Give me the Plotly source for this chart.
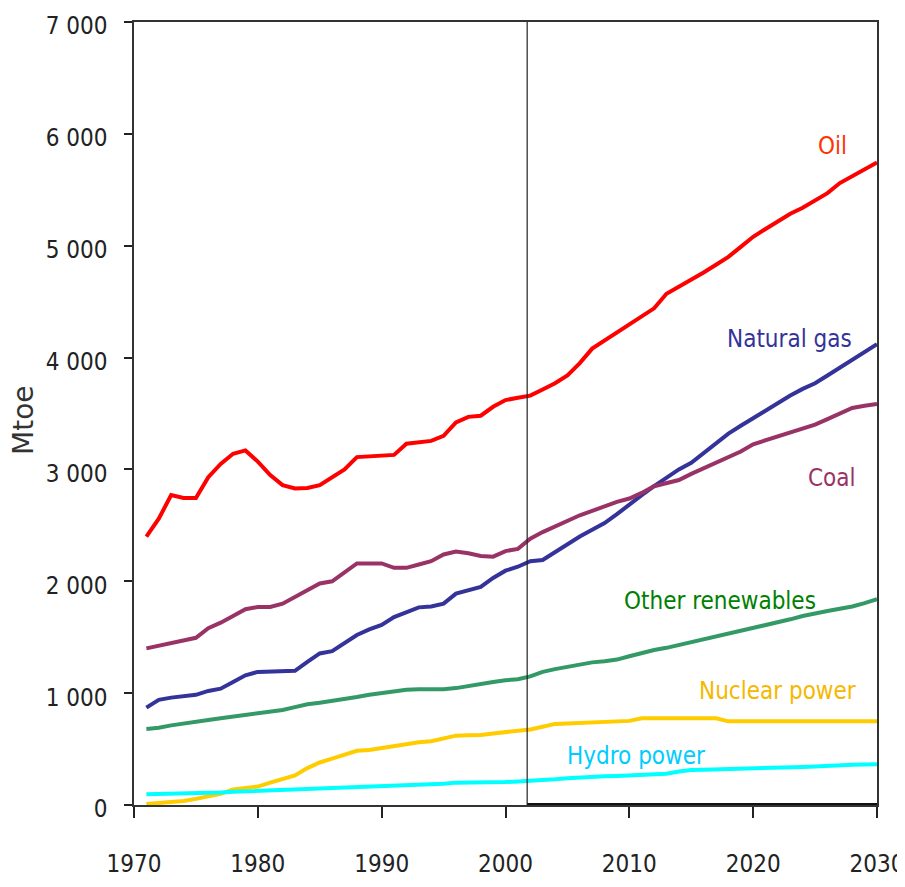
import plotly.graph_objects as go

years = list(range(1971, 2031))

oil = [2400, 2560, 2770, 2745, 2745, 2930, 3050, 3140, 3170, 3070, 2950, 2860, 2830, 2835, 2860,
       2925, 3000, 3110, 3115, 3120, 3130, 3230, 3240, 3255, 3300, 3420, 3470, 3480, 3560, 3620,
       3640, 3660,
       3715, 3770, 3840, 3950, 4080, 4150, 4220, 4290, 4360, 4440, 4570, 4630, 4690, 4760, 4830,
       4900, 4990, 5080, 5150, 5220, 5285, 5340, 5400, 5470, 5560, 5620, 5680, 5745]

natural_gas = [870, 940, 960, 975, 985, 1020, 1040, 1100, 1160, 1190, 1195, 1195, 1200, 1280, 1355,
               1375, 1450, 1520, 1570, 1610, 1680, 1720, 1767, 1775, 1800, 1890, 1920, 1950, 2030, 2095,
               2130, 2180,
               2190, 2260, 2340, 2400, 2460, 2520, 2600, 2690, 2770, 2850, 2930, 3000, 3060, 3150, 3240,
               3320, 3390, 3460, 3530, 3600, 3660, 3720, 3770, 3840, 3910, 3980, 4050, 4120]

coal = [1400, 1425, 1450, 1475, 1495, 1580, 1630, 1690, 1750, 1770, 1770, 1800, 1860, 1920, 1980,
        2000, 2080, 2160, 2160, 2160, 2120, 2120, 2150, 2180, 2240, 2265, 2250, 2226, 2220, 2270,
        2290, 2380,
        2440, 2490, 2540, 2590, 2630, 2670, 2710, 2740, 2790, 2850, 2880, 2905, 2960, 3010, 3060,
        3110, 3160, 3225, 3260, 3290, 3330, 3360, 3400, 3450, 3500, 3550, 3570, 3585]

other_renewables = [680, 690, 712, 730, 745, 760, 775, 790, 805, 815, 830, 850, 875, 900, 915,
                    930, 950, 965, 985, 1000, 1015, 1030, 1035, 1035, 1035, 1045, 1065, 1085, 1100, 1115,
                    1124, 1150,
                    1190, 1215, 1235, 1255, 1275, 1285, 1300, 1330, 1360, 1385, 1405, 1430, 1455, 1480, 1505,
                    1530, 1555, 1580, 1605, 1630, 1660, 1690, 1715, 1735, 1755, 1775, 1805, 1840]

nuclear = [10, 20, 25, 35, 55, 75, 100, 140, 150, 165, 200, 235, 265, 330, 380,
           415, 450, 485, 492, 510, 530, 545, 560, 570, 595, 620, 623, 625, 640, 650,
           660, 675,
           700, 725, 728, 732, 738, 745, 748, 752, 775, 775, 775, 775, 775, 775, 775,
           748, 748, 748, 748, 748, 748, 748, 748, 748, 748, 748, 748, 748]

hydro = [95, 97, 100, 103, 106, 108, 112, 118, 122, 128, 132, 136, 140, 145, 149,
         152, 155, 160, 163, 165, 170, 175, 180, 183, 190, 200, 200, 200, 202, 205,
         210, 215,
         222, 230, 240, 248, 253, 256, 259, 262, 266, 270, 280, 300, 313, 315, 317,
         319, 321, 323, 326, 330, 335, 340, 345, 352, 358, 360, 362, 365]

x_ticks = [1970, 1980, 1990, 2000, 2010, 2020, 2030]
y_tickvals = [0, 1000, 2000, 3000, 4000, 5000, 6000, 7000]
y_ticktext = ["0", "1 000", "2 000", "3 000", "4 000", "5 000", "6 000", "7 000"]

base_year = 2001.75

series = [
    ("Oil", oil, "#FF0000", "#FF3300", 2026.4, 5890),
    ("Natural gas", natural_gas, "#333399", "#333399", 2022.9, 4170),
    ("Coal", coal, "#993366", "#993366", 2026.4, 2920),
    ("Other renewables", other_renewables, "#339966", "#008000", 2017.3, 1820),
    ("Nuclear power", nuclear, "#FFCC00", "#F5B800", 2022.0, 1020),
    ("Hydro power", hydro, "#00FFFF", "#00CCFF", 2010.5, 440),
]

FONT = "DejaVu Sans Condensed, Liberation Sans Narrow, Arial Narrow, Liberation Sans, Arial, sans-serif"

fig = go.Figure()
for name, vals, lc, tc, lx, ly in series:
    fig.add_trace(go.Scatter(x=years, y=vals, mode="lines", name=name,
                             line=dict(color=lc, width=4), showlegend=False))
    fig.add_annotation(x=lx, y=ly, text=name, showarrow=False,
                       font=dict(family=FONT, size=24, color=tc),
                       xanchor="center", yanchor="middle")

# projection divider
fig.add_shape(type="line", x0=base_year, x1=base_year, y0=0, y1=7000,
              line=dict(color="#222222", width=1.2))
fig.add_shape(type="line", x0=base_year, x1=2030, y0=0, y1=0,
              line=dict(color="#111111", width=4))

fig.add_annotation(xref="x domain", yref="y domain",
                   x=(24 - 134) / 743, y=(805 - 420) / 783, text="Mtoe",
                   showarrow=False, textangle=-90, xanchor="center", yanchor="middle",
                   font=dict(family="DejaVu Sans, sans-serif", size=28, color="#333"))

fig.update_layout(
    width=897, height=871,
    margin=dict(l=126, r=28, t=14, b=74, autoexpand=False),
    plot_bgcolor="white", paper_bgcolor="white",
    font=dict(family=FONT, size=24, color="#222"),
)
fig.update_xaxes(range=[1970, 2030], tickvals=x_ticks, ticks="outside", ticklen=11,
                 tickwidth=1.5, tickcolor="#222", showline=True, linecolor="#333",
                 linewidth=1.5, mirror=True, showgrid=False, zeroline=False,
                 ticklabelstandoff=25, automargin=False, ticklabeloverflow="allow")
fig.update_yaxes(range=[0, 7000], tickvals=y_tickvals, ticktext=y_ticktext, ticks="outside",
                 ticklen=8, tickwidth=1.5, tickcolor="#222", showline=True, linecolor="#333",
                 linewidth=1.5, mirror=True, showgrid=False, zeroline=False,
                 ticklabelstandoff=12, ticklabelshift=4, automargin=False,
                 ticklabeloverflow="allow")

fig.write_html("out.html")
